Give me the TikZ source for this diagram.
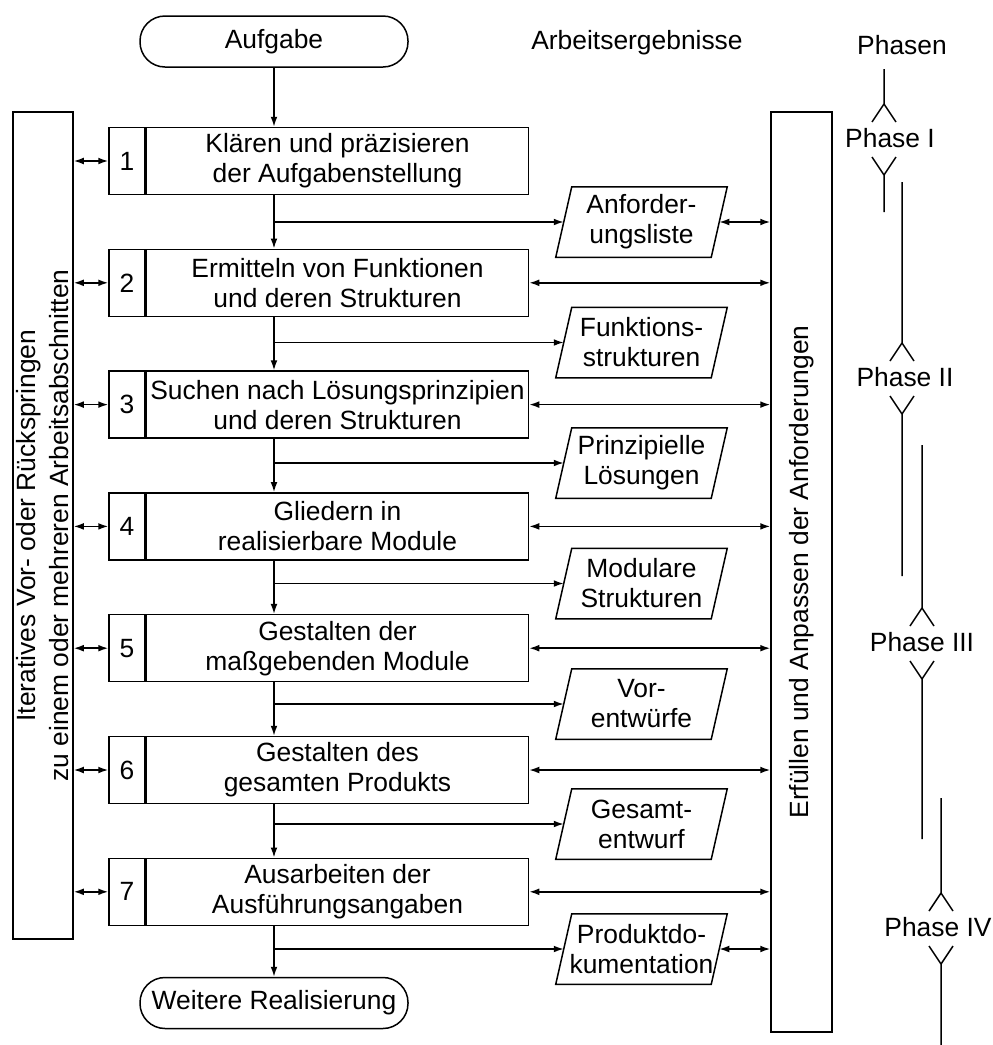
\documentclass[tikz,border=0pt]{standalone}
\usepackage{fontspec}
\setmainfont{Liberation Sans}
\usetikzlibrary{arrows.meta,positioning}

\tikzset{
  every node/.style={font=\fontsize{13.2}{15}\selectfont},
  terminal/.style={draw,rounded corners=12.5pt,minimum width=134pt,minimum height=25.5pt,inner sep=0pt},
  numbox/.style={draw,minimum width=18pt,minimum height=33.5pt,inner sep=0pt},
  stepbox/.style={draw,minimum width=191pt,minimum height=33.5pt,inner sep=0pt,align=center},
  result/.style={minimum width=77pt,minimum height=34.5pt,inner sep=0pt,align=center},
  sidebox/.style={draw,minimum width=30pt,inner sep=0pt},
  arr/.style={-{Latex[length=5pt,width=3.4pt]}},
  dbl/.style={{Latex[length=5pt,width=3.4pt]}-{Latex[length=5pt,width=3.4pt]}},
}

\begin{document}
\begin{tikzpicture}[x=0.5pt,y=-0.5pt,line width=0.75pt,node distance=26.65pt]
\useasboundingbox (0,0) rectangle (992,1045);
% Kopfzeile
\node[terminal] (start) at (274,41.5) {Aufgabe};
\node (ergtitle) at (637,43) {Arbeitsergebnisse};
\node (phtitle) at (902,45) {Phasen};

% Arbeitsschritte 1 bis 7
\node[numbox] (n1) at (127,161) {1};
\node[stepbox,right=0pt of n1] (s1) {Klären und präzisieren\\der Aufgabenstellung};
\node[numbox,below=of n1] (n2) {2};
\node[stepbox,right=0pt of n2] (s2) {Ermitteln von Funktionen\\und deren Strukturen};
\node[numbox,below=of n2] (n3) {3};
\node[stepbox,right=0pt of n3] (s3) {Suchen nach Lösungsprinzipien\\und deren Strukturen};
\node[numbox,below=of n3] (n4) {4};
\node[stepbox,right=0pt of n4] (s4) {Gliedern in\\realisierbare Module};
\node[numbox,below=of n4] (n5) {5};
\node[stepbox,right=0pt of n5] (s5) {Gestalten der\\maßgebenden Module};
\node[numbox,below=of n5] (n6) {6};
\node[stepbox,right=0pt of n6] (s6) {Gestalten des\\gesamten Produkts};
\node[numbox,below=of n6] (n7) {7};
\node[stepbox,right=0pt of n7] (s7) {Ausarbeiten der\\Ausführungsangaben};
\node[terminal] (finish) at (274,1003) {Weitere Realisierung};

% Arbeitsergebnisse
\node[result] (r1) at (641.5,222) {Anforder-\\ungsliste};
\node[result] (r2) at (641.5,342.5) {Funktions-\\strukturen};
\node[result] (r3) at (641.5,463) {Prinzipielle\\Lösungen};
\node[result] (r4) at (641.5,583.5) {Modulare\\Strukturen};
\node[result] (r5) at (641.5,704) {Vor-\\entwürfe};
\node[result] (r6) at (641.5,824) {Gesamt-\\entwurf};
\node[result] (r7) at (641.5,949) {Produktdo-\\kumentation};
\foreach \r in {r1,r2,r3,r4,r5,r6,r7}
  \draw ([xshift=-4pt]\r.south west) -- ([xshift=4pt]\r.north west) -- ([xshift=4pt]\r.north east) -- ([xshift=-4pt]\r.south east) -- cycle;

% Seitenbalken
\node[sidebox,minimum height=413.5pt] (lbox) at (43,525.5) {};
\node[rotate=90,align=center,font=\fontsize{13.2}{16.5}\selectfont] (ltext) at (lbox.center) {Iteratives Vor- oder Rückspringen\\zu einem oder mehreren Arbeitsabschnitten};
\node[sidebox,minimum width=30.5pt,minimum height=460pt] (rbox) at (801.5,572) {};
\node[rotate=90] (rtext) at (rbox.center) {Erfüllen und Anpassen der Anforderungen};

% Verbindungen
\draw[arr] (start) -- (start |- s1.north);
\foreach \k/\j in {1/2,2/3,3/4,4/5,5/6,6/7}{
  \draw[arr] (start |- s\k.south) -- (start |- s\j.north);
  \draw[arr] (start |- r\k.west) -- (r\k.west);
}
\draw[arr] (start |- s7.south) -- (finish);
\draw[arr] (start |- r7.west) -- (r7.west);
\foreach \k in {1,...,7}
  \draw[dbl] (lbox.east |- n\k.west) -- (n\k.west);
\foreach \k in {2,...,7}
  \draw[dbl] (s\k.east) -- (s\k.east -| rbox.west);
\foreach \k in {1,7}
  \draw[dbl] (r\k.east) -- (r\k.east -| rbox.west);

% Phasen
\foreach \x/\lx/\y/\top/\bot/\lab in {884/890/138/69/212/I, 902/905/377/182/576/II, 922/922/642/445/839/III, 941/938/927/798/1045/IV}{
  \node (ph\lab) at (\lx,\y) {Phase \lab};
  \draw (\x,\top) -- (\x,\y-34) -- (\x-12,\y-16) (\x,\y-34) -- (\x+12,\y-16);
  \draw (\x-12,\y+19) -- (\x,\y+37) -- (\x,\bot) (\x,\y+37) -- (\x+12,\y+19);
}
\end{tikzpicture}
\end{document}
